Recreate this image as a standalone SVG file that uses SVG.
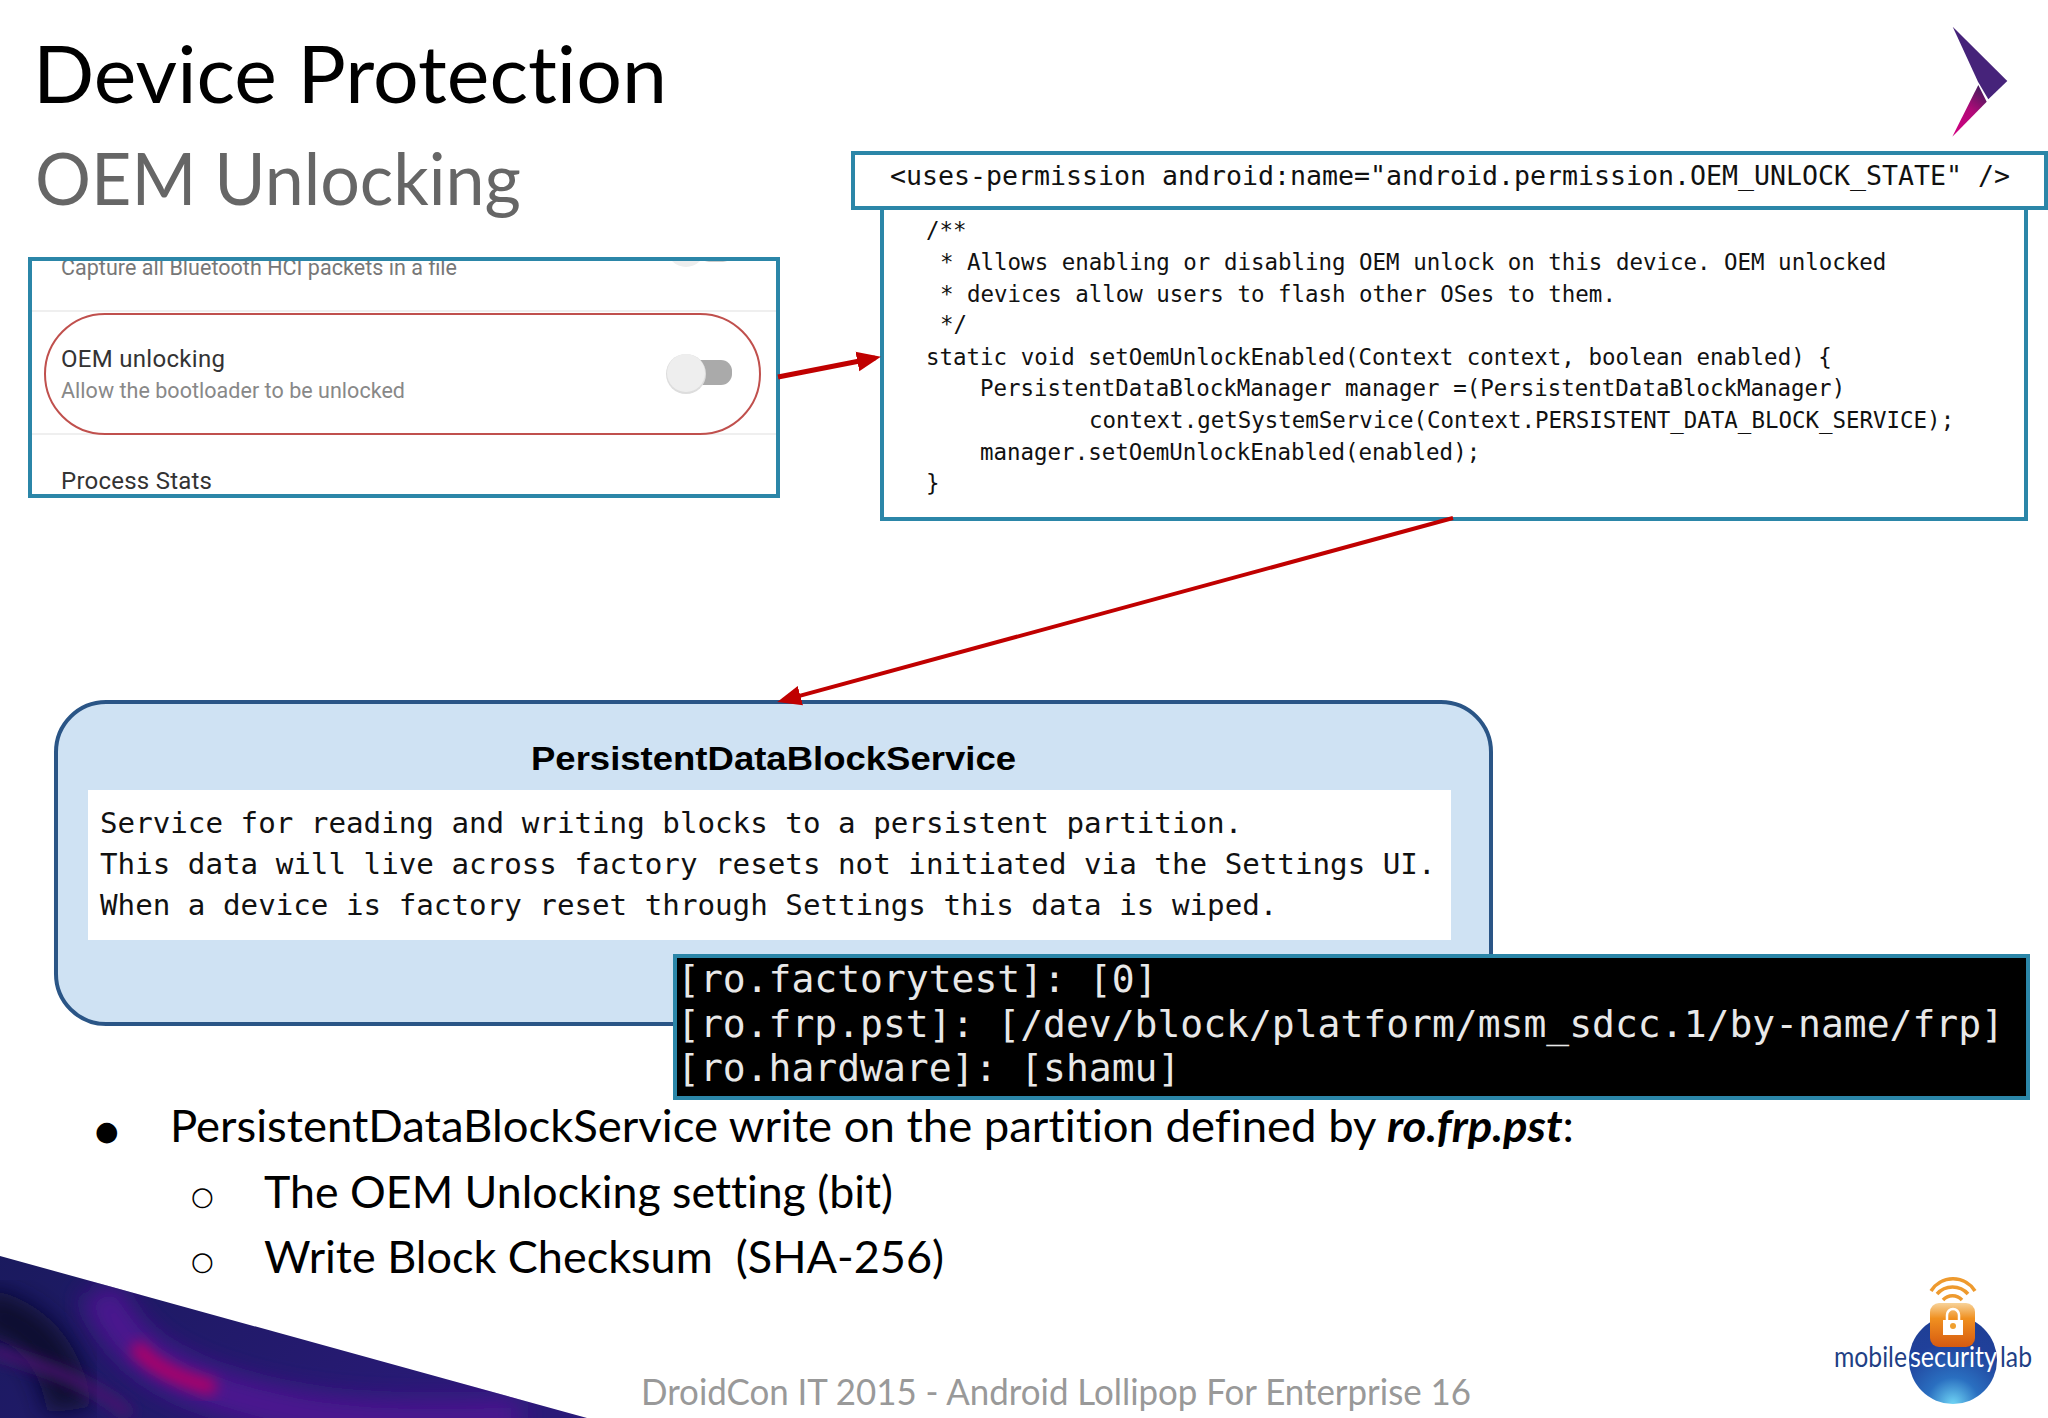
<svg xmlns="http://www.w3.org/2000/svg" width="2048" height="1418" viewBox="0 0 2048 1418">
<style>
.sans{font-family:"Lato","Noto Sans",sans-serif;font-variant-ligatures:none;white-space:pre}
.mono{font-family:"DejaVu Sans Mono","Liberation Mono",monospace}
.ui{font-family:Roboto,"Liberation Sans",sans-serif}
.frame{fill:none;stroke:#2b86a8;stroke-width:4}
.code{font-size:22.46px;fill:#111}
.doc{font-size:29.2px;fill:#111}
.term{font-size:38px;fill:#e8e8e8}
.body{font-size:44px;fill:#000}
.sym{font-family:"DejaVu Sans",sans-serif;fill:#000}
.conn{fill:none;stroke:#c00000;stroke-width:4}
</style>
<defs>
<marker id="ah" markerUnits="userSpaceOnUse" markerWidth="24" markerHeight="22" viewBox="0 0 24 22" refX="18" refY="11" orient="auto"><path d="M0 1 24 11 0 21z" fill="#c00000"/></marker>
<filter id="b1" x="-30%" y="-30%" width="160%" height="160%"><feGaussianBlur stdDeviation="12"/></filter>
<filter id="b2" x="-30%" y="-30%" width="160%" height="160%"><feGaussianBlur stdDeviation="7"/></filter>
<linearGradient id="g1" x1="0" y1="0" x2="1" y2="0.3"><stop offset="0" stop-color="#1a1a5e"/><stop offset="1" stop-color="#2a1a78"/></linearGradient>
<linearGradient id="g4" x1="0.7" y1="0" x2="0.2" y2="1"><stop offset="0" stop-color="#4a1a5e"/><stop offset="0.45" stop-color="#b00a78"/><stop offset="1" stop-color="#d00080"/></linearGradient>
<radialGradient id="g5" cx="0.5" cy="1" r="1"><stop offset="0" stop-color="#6fd4f5"/><stop offset="0.3" stop-color="#2a6fc0"/><stop offset="0.7" stop-color="#20409a"/><stop offset="1" stop-color="#1f3f95"/></radialGradient>
<linearGradient id="g6" x1="0" y1="0" x2="0" y2="1"><stop offset="0" stop-color="#f7d39a"/><stop offset="0.35" stop-color="#f09020"/><stop offset="1" stop-color="#d65a10"/></linearGradient>
<clipPath id="c1"><path d="M0 1256 587 1418H0z"/></clipPath>
<clipPath id="c2"><rect x="30" y="259" width="748" height="237"/></clipPath>
</defs>
<rect width="2048" height="1418" fill="#fff"/>

<g id="titles">
<text class="sans" x="33" y="103" font-size="80" fill="#000" textLength="634" lengthAdjust="spacingAndGlyphs">Device Protection</text>
<text class="sans" x="35" y="205" font-size="71" fill="#666" textLength="486" lengthAdjust="spacingAndGlyphs">OEM Unlocking</text>
</g>

<g id="corner-mark">
<path d="M1952.7 26.7 2007.3 81 1988.3 99.3 1978 81.7z" fill="#46237a"/>
<path d="M1978.3 85 1986.7 101.7 1952.3 136.7z" fill="url(#g4)"/>
</g>

<g id="settings-panel">
<rect x="30" y="259" width="748" height="237" fill="#fff"/>
<g clip-path="url(#c2)">
<rect x="700" y="242" width="32" height="20" rx="9" fill="#ccc"/>
<circle cx="686" cy="248" r="19" fill="#eee"/>
<text class="ui" x="61" y="275" font-size="21.5" fill="#777" textLength="396">Capture all Bluetooth HCI packets in a file</text>
<path d="M30 311H778M30 434H778" stroke="#efefef" stroke-width="2"/>
<rect x="45" y="314" width="715" height="120" rx="60" fill="#fff" stroke="#c0504d" stroke-width="2"/>
<text class="ui" x="61" y="367" font-size="24" fill="#333" textLength="164">OEM unlocking</text>
<text class="ui" x="61" y="398" font-size="21.5" fill="#888" textLength="344">Allow the bootloader to be unlocked</text>
<rect x="690" y="360" width="42" height="25" rx="11" fill="#aaa"/>
<circle cx="686" cy="374" r="20" fill="#ddd"/>
<circle cx="686" cy="373" r="19" fill="#eee"/>
<text class="ui" x="61" y="489" font-size="24" fill="#333" textLength="151">Process Stats</text>
</g>
<rect class="frame" x="30" y="259" width="748" height="237"/>
</g>

<g id="code-panel">
<rect class="frame" x="882" y="180" width="1144" height="339" style="fill:#fff"/>
<g class="mono code">
<text x="926" y="238">/**</text>
<text x="940" y="270">* Allows enabling or disabling OEM unlock on this device. OEM unlocked</text>
<text x="940" y="302">* devices allow users to flash other OSes to them.</text>
<text x="940" y="332">*/</text>
<text x="926" y="365">static void setOemUnlockEnabled(Context context, boolean enabled) {</text>
<text x="980" y="396">PersistentDataBlockManager manager =(PersistentDataBlockManager)</text>
<text x="1089" y="428">context.getSystemService(Context.PERSISTENT_DATA_BLOCK_SERVICE);</text>
<text x="980" y="460">manager.setOemUnlockEnabled(enabled);</text>
<text x="926" y="491">}</text>
</g>
</g>

<g id="permission-box">
<rect class="frame" x="853" y="153" width="1193" height="55" style="fill:#fff"/>
<text class="mono" x="890" y="185" font-size="26" fill="#111" textLength="1120" lengthAdjust="spacingAndGlyphs">&lt;uses-permission android:name="android.permission.OEM_UNLOCK_STATE" /&gt;</text>
</g>

<g id="service-box">
<rect x="56" y="702" width="1435" height="322" rx="50" fill="#cfe2f3" stroke="#2a5586" stroke-width="4"/>
<text x="531" y="770" font-family="Liberation Sans, Arial, sans-serif" font-weight="700" font-size="33" fill="#000" textLength="485" lengthAdjust="spacingAndGlyphs">PersistentDataBlockService</text>
<rect x="88" y="790" width="1363" height="150" fill="#fff"/>
<g class="mono doc">
<text x="100" y="833">Service for reading and writing blocks to a persistent partition.</text>
<text x="100" y="874">This data will live across factory resets not initiated via the Settings UI.</text>
<text x="100" y="915">When a device is factory reset through Settings this data is wiped.</text>
</g>
</g>

<g id="terminal-box">
<rect x="675" y="956" width="1353" height="142" fill="#000" stroke="#2b86a8" stroke-width="4"/>
<g class="mono term">
<text x="677" y="992">[ro.factorytest]: [0]</text>
<text x="677" y="1037">[ro.frp.pst]: [/dev/block/platform/msm_sdcc.1/by-name/frp]</text>
<text x="677" y="1081">[ro.hardware]: [shamu]</text>
</g>
</g>

<g id="connectors">
<path class="conn" style="stroke-width:5" d="M778 377 875 358" marker-end="url(#ah)"/>
<path class="conn" d="M1453 518 783 700.4" marker-end="url(#ah)"/>
</g>

<g id="bullets">
<text class="sym" x="95" y="1140" font-size="27">●</text>
<text class="sans body" x="170" y="1142" textLength="1404" lengthAdjust="spacingAndGlyphs">PersistentDataBlockService write on the partition defined by <tspan font-weight="700" font-style="italic">ro.frp.pst</tspan>:</text>
<text class="sym" x="191" y="1205" font-size="26">○</text>
<text class="sans body" x="264" y="1208" textLength="629" lengthAdjust="spacingAndGlyphs">The OEM Unlocking setting (bit)</text>
<text class="sym" x="191" y="1270" font-size="26">○</text>
<text class="sans body" x="264" y="1273" textLength="680" lengthAdjust="spacingAndGlyphs">Write Block Checksum  (SHA-256)</text>
</g>

<g id="corner-art" clip-path="url(#c1)">
<rect y="1250" width="600" height="170" fill="url(#g1)"/>
<path d="M-20 1310C30 1320 60 1350 70 1410" fill="none" stroke="#10102e" stroke-width="45" filter="url(#b1)"/>
<path d="M100 1290C120 1340 150 1370 230 1395S380 1425 520 1420" fill="none" stroke="#4c1390" stroke-width="42" filter="url(#b1)"/>
<path d="M-10 1350C40 1365 90 1380 130 1415" fill="none" stroke="#4a1470" stroke-width="12" filter="url(#b2)"/>
<path d="M135 1345C150 1365 175 1378 215 1388" fill="none" stroke="#b00668" stroke-width="16" filter="url(#b2)"/>
</g>

<text id="footer" class="sans" x="641" y="1405" font-size="36" fill="#999" textLength="830" lengthAdjust="spacingAndGlyphs">DroidCon IT 2015 - Android Lollipop For Enterprise 16</text>

<g id="lab-logo">
<circle cx="1953" cy="1360" r="44" fill="url(#g5)"/>
<g fill="none" stroke="#ee9a2e" stroke-width="3.5">
<path d="M1931 1291A26 26 0 0 1 1975 1291"/>
<path d="M1937 1294A20.6 20.6 0 0 1 1968 1294"/>
<path d="M1943 1300A13 13 0 0 1 1962 1300"/>
</g>
<rect x="1930" y="1303" width="45" height="44" rx="9" fill="url(#g6)"/>
<rect x="1943" y="1320" width="20" height="15" fill="#fff"/>
<path d="M1947 1320V1315A6 6 0 0 1 1959 1315V1320" fill="none" stroke="#fff" stroke-width="2.5"/>
<circle cx="1953" cy="1326" r="3" fill="#f0a030"/>
<text class="sans" x="1834" y="1367" font-size="28" fill="#1f3f85" textLength="73" lengthAdjust="spacingAndGlyphs">mobile</text>
<text class="sans" x="1910" y="1367" font-size="28" fill="#fff" textLength="87" lengthAdjust="spacingAndGlyphs">security</text>
<text class="sans" x="2000" y="1367" font-size="28" fill="#1f3f85" textLength="32" lengthAdjust="spacingAndGlyphs">lab</text>
</g>
</svg>
